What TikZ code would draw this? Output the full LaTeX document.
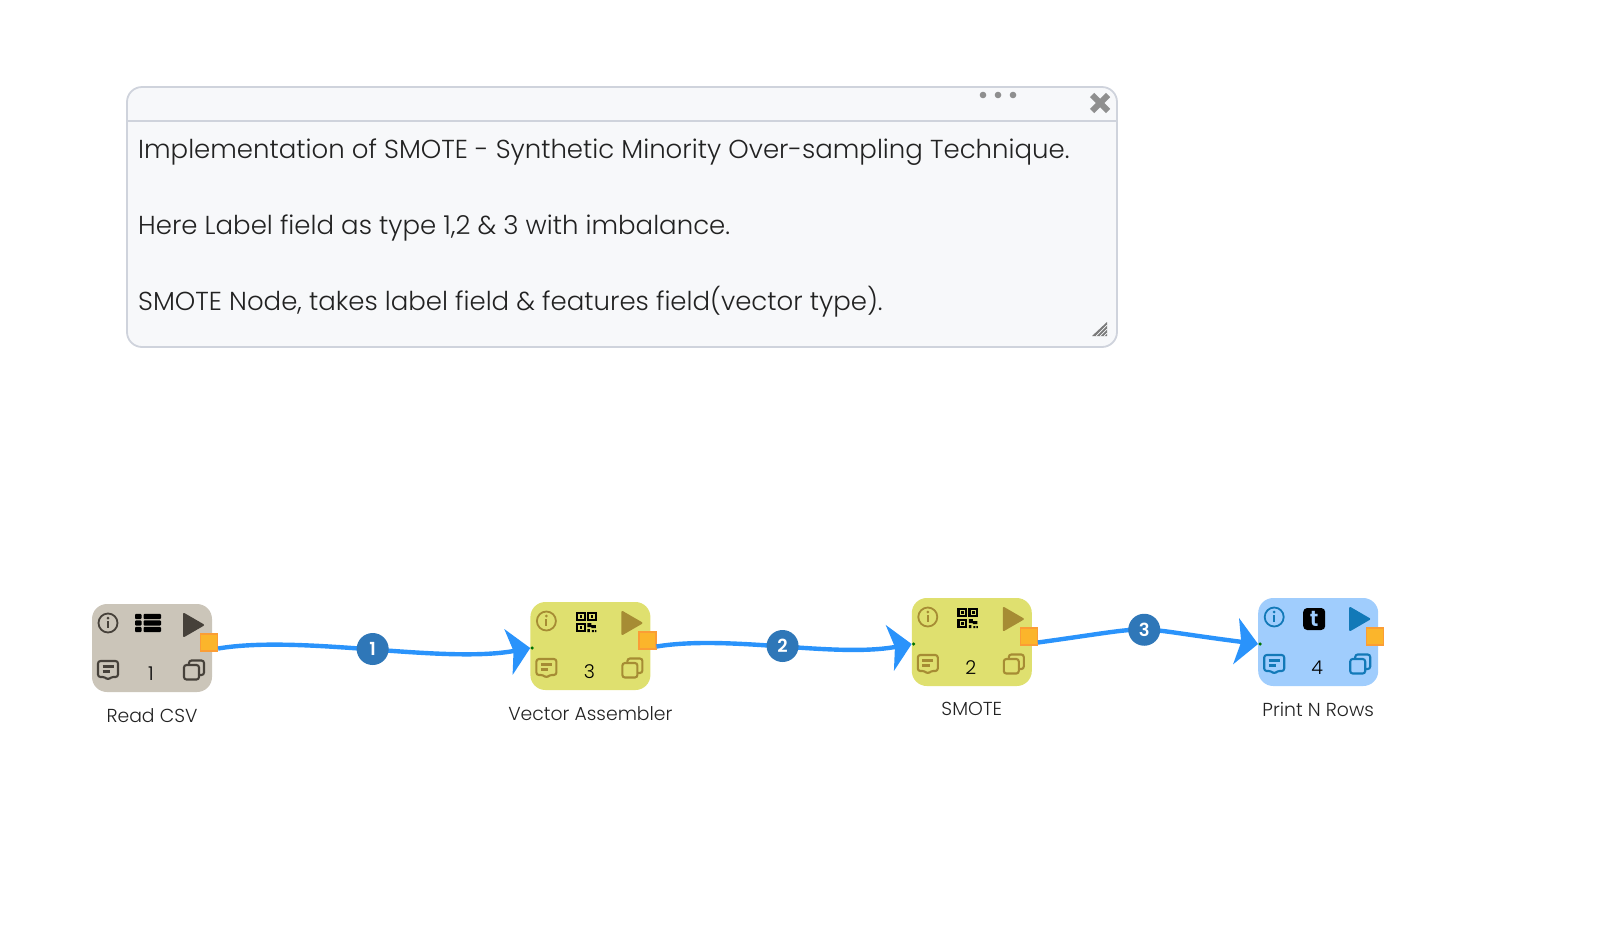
\documentclass[tikz,border=0pt]{standalone}
\usepackage{fontspec}
\setmainfont{Poppins Light}
\usetikzlibrary{positioning,arrows.meta,calc}

\definecolor{linkblue}{HTML}{2A93FB}
\definecolor{badgeblue}{HTML}{2F77B8}
\definecolor{portfill}{HTML}{FBB52B}
\definecolor{portedge}{HTML}{FB9D35}
\definecolor{boxfill}{HTML}{F7F8FA}
\definecolor{boxedge}{HTML}{CFD3DC}
\definecolor{boxgrey}{HTML}{8F8F8F}
\definecolor{sourcefill}{HTML}{CBC5B9}
\definecolor{sourceicon}{HTML}{46413A}
\definecolor{stagefill}{HTML}{DFE06F}
\definecolor{stageicon}{HTML}{A68C34}
\definecolor{sinkfill}{HTML}{A0CDFD}
\definecolor{sinkicon}{HTML}{1279B8}
\definecolor{inkgrey}{HTML}{222222}

\tikzset{
  block/.style={minimum width=120pt, minimum height=88pt, rounded corners=15pt, inner sep=0pt},
  port/.style={draw=portedge, fill=portfill, line width=1.2pt, minimum size=17pt, inner sep=0pt},
  inlet/.style={circle, fill=green!45!black, minimum size=3.5pt, inner sep=0pt},
  badge/.style={circle, fill=badgeblue, text=white, minimum size=32pt, inner sep=0pt, font=\fontsize{18}{18}\selectfont\bfseries},
  link/.style={draw=linkblue, line width=4.4pt, -{Stealth[length=22pt, width=46pt, inset=5pt]}},
  caption/.style={font=\fontsize{18.8}{18.8}\selectfont, text=inkgrey, inner sep=0pt},
  count/.style={font=\fontsize{19}{19}\selectfont, inner sep=0pt},
  noteline/.style={font=\fontsize{26}{26}\selectfont, text=inkgrey, anchor=base west, inner sep=0pt},
  infoicon/.pic={
    \draw[#1, line width=1.8pt] (0,0) circle (9.5pt);
    \fill[#1] (0,5) circle (1.5pt);
    \draw[#1, line width=2pt] (0,2) -- (0,-5);
  },
  noteicon/.pic={
    \draw[#1, line width=2.1pt, rounded corners=2.5pt, line join=round]
      (-10,9) -- (10,9) -- (10,-7) -- (3,-7) -- (0,-10) -- (-3,-7) -- (-10,-7) -- cycle;
    \draw[#1, line width=2.1pt] (-5.5,3.5) -- (5.5,3.5) (-5.5,-1.5) -- (2,-1.5);
  },
  copyicon/.pic={
    \draw[#1, line width=2.1pt, rounded corners=2.5pt] (-10,-9.5) rectangle (5,5);
    \draw[#1, line width=2.1pt, rounded corners=2.5pt] (-5,5) -- (-5,9.5) -- (10,9.5) -- (10,-5) -- (5,-5);
  },
  playicon/.pic={
    \fill[#1, draw=#1, line width=2pt, line join=round] (-9,11) -- (10,0) -- (-9,-11) -- cycle;
  },
  tableicon/.pic={
    \foreach \rowy in {6.5,0,-6.5}{
      \fill[black, rounded corners=1pt] (-13,\rowy-2.7) rectangle (-6.5,\rowy+2.7);
      \fill[black, rounded corners=1pt] (-4.5,\rowy-2.7) rectangle (13,\rowy+2.7);
    }
  },
  qricon/.pic={
    \foreach \qx/\qy in {-5.5/5.5,5.5/5.5,-5.5/-5.5}{
      \draw[black, line width=2.2pt] (\qx-3.8,\qy-3.8) rectangle (\qx+3.8,\qy+3.8);
      \fill[black] (\qx-1.4,\qy-1.4) rectangle (\qx+1.4,\qy+1.4);
    }
    \fill[black] (1,-1) rectangle (5,-5) (5,-3) rectangle (9.5,-6) (1,-7) rectangle (3.5,-10)
      (5.5,-8) rectangle (7.5,-10) (8.5,-8) rectangle (10,-10);
  },
  blogicon/.pic={
    \node[fill=black, text=sinkfill, rounded corners=4pt, minimum size=22pt, inner sep=0pt,
      font=\fontsize{22}{22}\selectfont\bfseries] (blog) {t};
  },
}

\newcommand{\blockicons}[3]{
  \path ([shift={(-44pt,25pt)}]#1.center) pic {infoicon=#2};
  \path ([shift={(41pt,23pt)}]#1.center) pic {playicon=#2};
  \path ([shift={(-44pt,-22pt)}]#1.center) pic {noteicon=#2};
  \path ([shift={(42pt,-22pt)}]#1.center) pic {copyicon=#2};
  \node[count] (#1num) at ([shift={(-1pt,-26pt)}]#1.center) {#3};
}

\begin{document}
\begin{tikzpicture}[x=1pt, y=1pt]

  \useasboundingbox (0,0) rectangle (1598,-930);

  % note on top
  \node (note) [draw=boxedge, fill=boxfill, line width=1.8pt, rounded corners=15pt,
    minimum width=990pt, minimum height=260pt, inner sep=0pt] at (622,-217) {};
  \coordinate (barL) at ([yshift=-35pt]note.north west);
  \coordinate (barR) at ([yshift=-35pt]note.north east);
  \draw[boxedge, line width=1.8pt] (barL) -- (barR);
  \foreach \dotx in {983,998,1013}
    \fill[boxgrey] (\dotx,-95) circle (3.3pt);
  \draw[boxgrey, line width=6pt] (1092,-95) -- (1108,-111) (1092,-111) -- (1108,-95);
  \fill[boxgrey!85!black] (1092,-336) -- (1107,-322) -- (1107,-336) -- cycle;
  \foreach \hatchx in {1096,1100,1104}
    \draw[boxfill, line width=.7pt] (\hatchx,-336) -- (1107,{-336+(1107-\hatchx)});

  \node (line1) [noteline] at (138,-158) {Implementation of SMOTE - Synthetic Minority Over-sampling Technique.};
  \node (line2) [noteline] at (138,-234) {Here Label field as type 1,2 \& 3 with imbalance.};
  \node (line3) [noteline] at (138,-310) {SMOTE Node, takes label field \& features field(vector type).};

  % flow
  \node (read) [block, fill=sourcefill] at (152,-648) {};
  \node (vector) [block, fill=stagefill, right=318pt of read, yshift=2pt] {};
  \node (smote) [block, fill=stagefill, right=261pt of vector, yshift=4pt] {};
  \node (print) [block, fill=sinkfill, right=226pt of smote] {};

  \blockicons{read}{sourceicon}{1}
  \blockicons{vector}{stageicon}{3}
  \blockicons{smote}{stageicon}{2}
  \blockicons{print}{sinkicon}{4}

  \path ([shift={(-4pt,25pt)}]read.center) pic {tableicon};
  \path ([shift={(-4pt,24pt)}]vector.center) pic {qricon};
  \path ([shift={(-4pt,24pt)}]smote.center) pic {qricon};
  \path ([shift={(-4pt,23pt)}]print.center) pic {blogicon};

  \node (readlab) [caption, below=16pt of read.south] {Read CSV};
  \node (vectorlab) [caption, below=16pt of vector.south] {Vector Assembler};
  \node (smotelab) [caption, below=16pt of smote.south] {SMOTE};
  \node (printlab) [caption, below=16pt of print.south] {Print N Rows};

  \node (readout) [port] at ([shift={(57pt,5.5pt)}]read.center) {};
  \node (vectorout) [port] at ([shift={(57pt,5.5pt)}]vector.center) {};
  \node (smoteout) [port] at ([shift={(57pt,5.5pt)}]smote.center) {};
  \node (printout) [port] at ([shift={(57pt,5.5pt)}]print.center) {};

  \node (vectorin) [inlet] at ([shift={(2pt,-2pt)}]vector.west) {};
  \node (smotein) [inlet] at ([shift={(2pt,-2pt)}]smote.west) {};
  \node (printin) [inlet] at ([shift={(2pt,-2pt)}]print.west) {};

  \draw [link] ([yshift=-6pt]readout.east) .. controls +(84,14) and +(-88,-16) .. node (badge1) [badge] {1} (vectorin.west);
  \draw [link] ([yshift=-6pt]vectorout.east) .. controls +(74,12) and +(-78,-14) .. node (badge2) [badge] {2} (smotein.west);
  \draw [link] ([yshift=-6pt]smoteout.east) .. controls +(130,18) and +(-140,18) .. node (badge3) [badge] {3} (printin.west);

\end{tikzpicture}
\end{document}
